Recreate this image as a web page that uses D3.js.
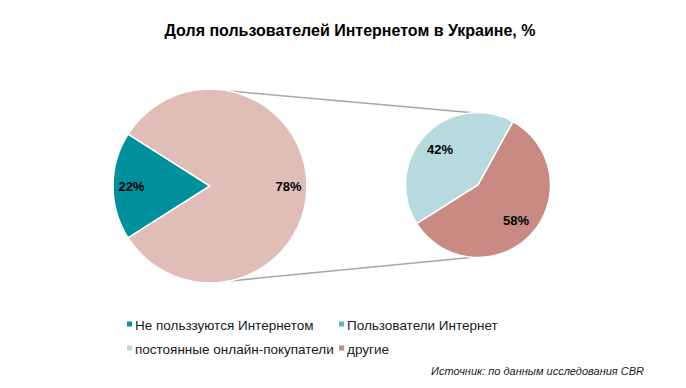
<!DOCTYPE html>
<html><head><meta charset="utf-8">
<script src="https://cdn.jsdelivr.net/npm/d3@7"></script>
<style>body{margin:0;background:#fff}svg{display:block;font-family:"Liberation Sans",Arial,sans-serif}</style>
</head><body><svg id="c" width="686" height="388"></svg>
<script>
// Primary pie (shares as drawn) and its labels
const mainCategories = ["Не польззуются Интернетом", "Пользователи Интернет"];
const mainShares = [18, 82];
const mainLabels = ["22%", "78%"];
// Secondary pie (breakdown of users)
const subCategories = ["постоянные онлайн-покупатели", "другие"];
const subShares = [42, 58];
const subLabels = ["42%", "58%"];
const legendItems = ["Не польззуются Интернетом", "Пользователи Интернет", "постоянные онлайн-покупатели", "другие"];
const title = "Доля пользователей Интернетом в Украине, %";
const source = "Источник: по данным исследования CBR";

const colors = {
  "Не польззуются Интернетом": "#00909c",
  "Пользователи Интернет": "#e0bdb7",
  "постоянные онлайн-покупатели": "#b6dade",
  "другие": "#c98a83"
};
const legendColors = ["#00909c", "#5fb3bc", "#b6dade", "#c98a83"];

const svg = d3.select("#c");
svg.append("text").attr("x", 350).attr("y", 36).attr("text-anchor", "middle")
  .attr("font-size", 16).attr("font-weight", "bold").attr("fill", "#000").text(title);

const deg = Math.PI / 180;
// main pie: first slice centered at 9 o'clock
const mainSpan = mainShares[0] / d3.sum(mainShares) * 2 * Math.PI;
const mainPie = d3.pie().sort(null)
  .startAngle(270 * deg - mainSpan / 2).endAngle(270 * deg - mainSpan / 2 + 2 * Math.PI);
const subPie = d3.pie().sort(null).startAngle(237.7 * deg).endAngle(237.7 * deg + 2 * Math.PI);

const bigC = [210, 186], bigR = 97;
const smC = [478, 185], smR = 72.5;

// connector lines
const pt = (c, r, a) => [c[0] + r * Math.sin(a * deg), c[1] - r * Math.cos(a * deg)];
const lines = [[pt(bigC, bigR, 12), pt(smC, smR, -4)], [pt(bigC, bigR, 168), pt(smC, smR, 184)]];
svg.selectAll("line.conn").data(lines).join("line")
  .attr("x1", d => d[0][0]).attr("y1", d => d[0][1])
  .attr("x2", d => d[1][0]).attr("y2", d => d[1][1])
  .attr("stroke", "#a6a6a6").attr("stroke-width", 1.5);

function drawPie(c, r, pie, cats, shares, labels, labelR) {
  const g = svg.append("g").attr("transform", `translate(${c[0]},${c[1]})`);
  const arc = d3.arc().innerRadius(0).outerRadius(r);
  const la = d3.arc().innerRadius(r * labelR).outerRadius(r * labelR);
  const arcs = pie(shares);
  g.selectAll("path").data(arcs).join("path")
    .attr("d", arc).attr("fill", (d, i) => colors[cats[i]])
    .attr("stroke", "#fff").attr("stroke-width", 1.5);
  g.selectAll("text").data(arcs).join("text")
    .attr("transform", d => `translate(${la.centroid(d)})`)
    .attr("text-anchor", "middle").attr("dy", "0.35em")
    .attr("font-size", 13).attr("font-weight", "bold").attr("fill", "#000")
    .text((d, i) => labels[i]);
}
drawPie(bigC, bigR, mainPie, mainCategories, mainShares, mainLabels, 0.81);
drawPie(smC, smR, subPie, subCategories, subShares, subLabels, 0.72);

// legend
const lx = [127, 339], ly = [325, 349];
legendItems.forEach((name, i) => {
  const x = lx[i % 2], y = ly[Math.floor(i / 2)];
  svg.append("rect").attr("x", x).attr("y", y - 3.5).attr("width", 5).attr("height", 5).attr("fill", legendColors[i]);
  svg.append("text").attr("x", x + 8).attr("y", y).attr("dy", "0.35em")
    .attr("font-size", 13.5).attr("fill", "#1a1a1a").text(name);
});

svg.append("text").attr("x", 644).attr("y", 375).attr("text-anchor", "end")
  .attr("font-size", 11).attr("font-style", "italic").attr("fill", "#1a1a1a").text(source);
</script></body></html>
